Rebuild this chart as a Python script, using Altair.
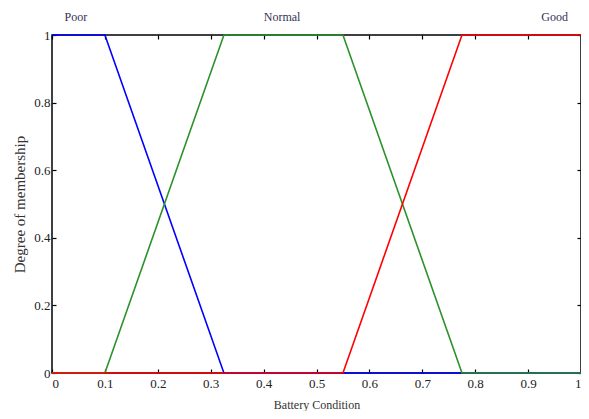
import altair as alt
import pandas as pd

series_names = ["Poor", "Normal", "Good"]
poor_x = [0, 0.1, 0.325, 1]
poor_y = [1, 1, 0, 0]
normal_x = [0, 0.1, 0.325, 0.55, 0.775, 1]
normal_y = [0, 0, 1, 1, 0, 0]
good_x = [0, 0.55, 0.775, 1]
good_y = [0, 0, 1, 1]
label_x = [0.045, 0.435, 0.95]
x_ticks = [0, 0.1, 0.2, 0.3, 0.4, 0.5, 0.6, 0.7, 0.8, 0.9, 1]
y_ticks = [0, 0.2, 0.4, 0.6, 0.8, 1]
colors = ["#0000ff", "#2a922a", "#ff0000"]

rows = []
for name, xs, ys in zip(series_names, [poor_x, normal_x, good_x], [poor_y, normal_y, good_y]):
    for i, (a, b) in enumerate(zip(xs, ys)):
        rows.append({"series": name, "x": a, "y": b, "order": i})
df = pd.DataFrame(rows)
labels = pd.DataFrame({"series": series_names, "x": label_x})

FONT = "Liberation Serif"
xscale = alt.Scale(domain=[0, 1], nice=False, zero=False)
yscale = alt.Scale(domain=[0, 1], nice=False, zero=False)
cscale = alt.Scale(domain=series_names, range=colors)

common = dict(labelFont=FONT, titleFont=FONT, labelFontSize=13,
              titleFontWeight="normal", labelColor="#222", titleColor="#333",
              tickColor="black", tickWidth=1.2, grid=False, domain=False, offset=-4, tickSize=4)

lines = alt.Chart(df).mark_line(strokeWidth=1.6).encode(
    x=alt.X("x:Q", scale=xscale,
            axis=alt.Axis(orient="bottom", values=x_ticks, format="~g", labelPadding=4,
                          title="Battery Condition", titleFontSize=12, titlePadding=9, **common)),
    y=alt.Y("y:Q", scale=yscale,
            axis=alt.Axis(orient="left", values=y_ticks, format="~g", labelPadding=2,
                          title="Degree of membership", titleFontSize=15, titlePadding=6, **common)),
    color=alt.Color("series:N", scale=cscale, legend=None),
    order="order:Q",
    detail="series:N",
)

frame = alt.Chart(df).mark_line(opacity=0).encode(
    x=alt.X("x:Q", scale=xscale,
            axis=alt.Axis(orient="top", values=x_ticks, labels=False, title=None, **common)),
    y=alt.Y("y:Q", scale=yscale,
            axis=alt.Axis(orient="right", values=y_ticks, labels=False, title=None, **common)),
    detail="series:N",
)

text = alt.Chart(labels).mark_text(font=FONT, fontSize=12, color="#333355", baseline="middle").encode(
    x=alt.X("x:Q", scale=xscale, axis=None),
    y=alt.value(-18),
    text="series:N",
)

chart = alt.layer(lines, frame, text).resolve_axis(x="independent", y="independent").properties(
    width=529, height=338,
    background="white",
    autosize=alt.AutoSizeParams(type="none"),
    padding={"left": 44, "top": 27, "right": 0, "bottom": 38},
).configure_view(stroke="black", strokeWidth=1.5)

chart.save("out.html", embed_options={"renderer": "svg", "actions": False})
